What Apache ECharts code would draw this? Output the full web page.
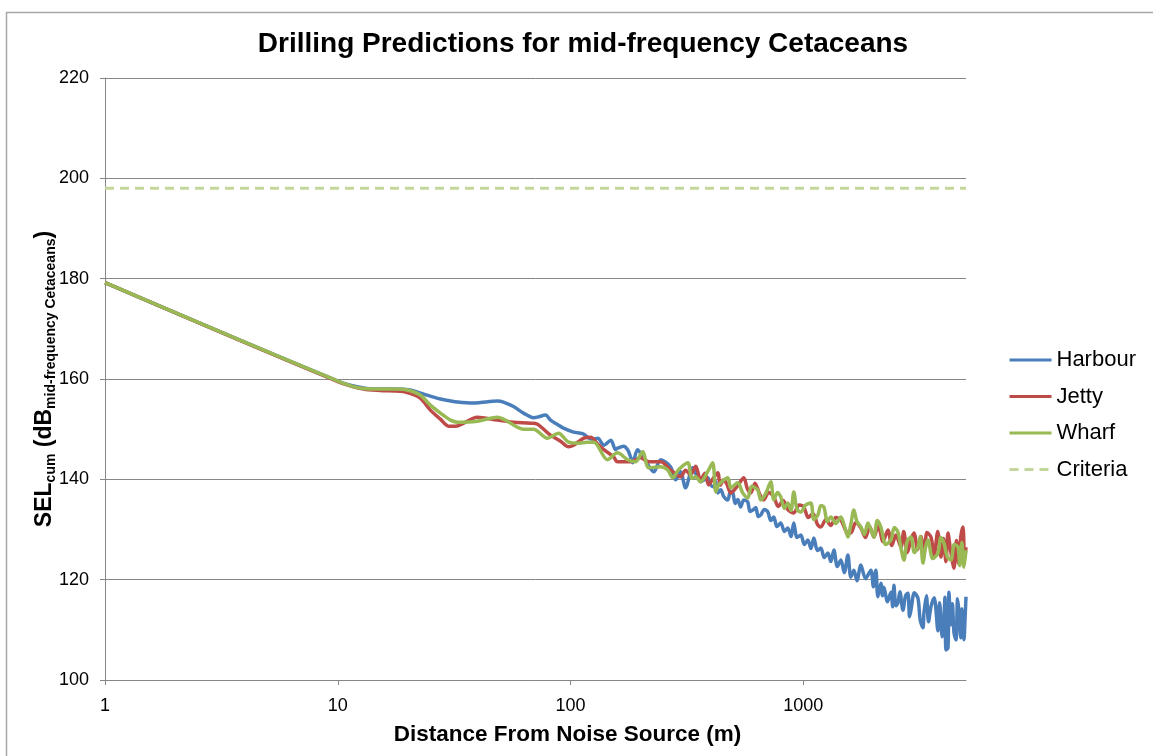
<!DOCTYPE html>
<html>
<head>
<meta charset="utf-8">
<script src="https://cdn.jsdelivr.net/npm/echarts@6/dist/echarts.min.js"></script>
<style>
html,body{margin:0;padding:0;background:#fff;}
#chart{width:1153px;height:756px;}
</style>
</head>
<body>
<div id="chart"></div>
<script>
// ---- data (distance in m, SEL in dB) ----
const xTicks = [1, 10, 100, 1000];

const harbourDist = [1, 10, 12.9, 15.2, 17.7, 20.5, 22.6, 25.0, 27.6, 29.9, 32.7, 38.3, 41.0, 48.5, 51.5, 56.9, 62.8, 69.3, 72.1, 78.1, 82.0, 88.8, 93.3, 103, 110, 114, 120, 126, 131, 139, 149, 156, 159, 169, 176, 181, 185, 194, 206, 228, 244, 269, 283, 297, 312, 335, 362, 388, 400, 412, 420, 429, 442, 455, 474, 486, 498, 510, 523, 538, 555, 577, 590, 607, 625, 640, 657, 680, 704, 725, 747, 770, 800, 830, 858, 885, 910, 940, 976, 1010, 1046, 1078, 1110, 1150, 1189, 1230, 1275, 1313, 1353, 1400, 1450, 1500, 1554, 1600, 1649, 1700, 1767, 1850, 1951, 2000, 2050, 2091, 2154, 2190, 2220, 2300, 2379, 2420, 2451, 2500, 2550, 2600, 2679, 2750, 2815, 2860, 2900, 3000, 3108, 3180, 3266, 3299, 3380, 3450, 3535, 3650, 3788, 3850, 3950, 4021, 4060, 4102, 4184, 4225, 4300, 4370, 4440, 4529, 4600, 4666, 4750, 4800, 4900, 4950, 5000];
const harbourSEL = [179.2, 159.6, 158.2, 158.0, 158.0, 157.8, 157.2, 156.6, 156.0, 155.7, 155.4, 155.2, 155.3, 155.6, 155.4, 154.5, 153.2, 152.3, 152.4, 152.8, 151.8, 150.8, 150.2, 149.4, 149.2, 149.0, 148.2, 148.0, 148.2, 146.8, 147.8, 145.9, 146.2, 146.6, 145.9, 144.5, 143.3, 145.9, 144.3, 141.5, 143.9, 142.5, 139.9, 141.5, 138.3, 142.3, 139.5, 140.3, 138.9, 138.5, 139.6, 137.3, 137.9, 136.6, 135.9, 137.6, 137.3, 135.2, 136.0, 134.5, 135.9, 135.5, 133.6, 133.9, 134.4, 132.6, 132.9, 134.0, 133.5, 131.8, 132.5, 130.6, 131.3, 129.6, 130.3, 128.6, 131.3, 128.4, 128.9, 127.0, 127.9, 126.2, 128.3, 125.8, 126.3, 124.4, 125.3, 123.6, 125.9, 122.6, 123.9, 121.4, 124.9, 120.5, 121.9, 119.8, 122.9, 120.2, 121.9, 118.6, 121.9, 116.6, 119.3, 116.8, 118.5, 115.6, 117.5, 114.6, 118.9, 114.8, 115.4, 117.6, 113.9, 116.8, 117.3, 112.6, 113.9, 117.4, 116.3, 111.9, 110.4, 113.4, 116.8, 111.6, 114.6, 116.4, 109.8, 115.4, 108.6, 112.6, 116.5, 106.0, 106.4, 117.5, 111.0, 115.2, 109.4, 108.0, 116.2, 113.6, 108.4, 114.2, 108.0, 112.0, 116.6];

const jettyDist = [1, 10, 12.9, 15.2, 17.7, 19.9, 22.6, 25.0, 27.6, 29.9, 32.0, 39.8, 48.5, 56.9, 67.3, 72.1, 82.0, 90.6, 98.0, 103, 114, 122, 131, 139, 153, 159, 181, 200, 217, 244, 269, 297, 312, 328, 345, 362, 378, 392, 410, 429, 440, 455, 470, 488, 520, 555, 575, 595, 620, 650, 676, 710, 747, 780, 820, 860, 910, 960, 1005, 1050, 1100, 1150, 1189, 1250, 1313, 1380, 1450, 1530, 1600, 1680, 1767, 1850, 1930, 2010, 2100, 2200, 2309, 2400, 2500, 2627, 2700, 2800, 2900, 2988, 3100, 3200, 3299, 3400, 3535, 3650, 3780, 3903, 4000, 4100, 4184, 4300, 4440, 4550, 4650, 4750, 4853, 4930, 5000];
const jettySEL = [179.2, 159.5, 158.0, 157.7, 157.6, 157.3, 156.2, 153.8, 152.0, 150.6, 150.6, 152.4, 151.8, 151.4, 151.2, 151.0, 148.8, 147.6, 146.5, 146.8, 148.2, 148.4, 147.0, 145.9, 144.5, 143.5, 143.5, 144.3, 143.5, 143.5, 141.9, 140.5, 141.8, 140.9, 142.6, 139.9, 141.2, 138.9, 140.2, 141.3, 138.8, 139.9, 139.0, 137.3, 138.6, 140.3, 138.1, 137.3, 139.2, 137.0, 135.9, 137.4, 136.5, 134.6, 135.8, 133.9, 133.3, 134.9, 134.5, 132.4, 133.2, 131.0, 130.5, 132.0, 130.8, 132.4, 131.9, 129.6, 129.3, 131.4, 130.3, 128.4, 130.6, 128.5, 130.8, 127.6, 129.9, 126.8, 128.9, 126.5, 129.6, 125.4, 128.0, 129.3, 126.0, 128.6, 125.3, 129.4, 128.5, 125.0, 129.6, 124.5, 128.2, 123.6, 129.3, 125.6, 122.3, 127.8, 123.2, 128.6, 130.5, 124.0, 126.5];

const wharfDist = [1, 10, 12.9, 15.2, 17.7, 19.9, 22.6, 25.0, 27.6, 30.5, 32.7, 39.8, 48.5, 62.8, 69.3, 79.6, 88.8, 98.0, 107, 118, 126, 144, 159, 176, 190, 204, 217, 244, 261, 275, 291, 319, 332, 345, 362, 388, 408, 421, 433, 474, 488, 523, 549, 577, 600, 637, 657, 690, 725, 747, 775, 800, 830, 858, 885, 910, 940, 976, 1020, 1077, 1110, 1155, 1190, 1225, 1270, 1313, 1380, 1450, 1500, 1554, 1600, 1649, 1700, 1767, 1830, 1894, 1950, 2010, 2080, 2154, 2260, 2379, 2460, 2550, 2620, 2706, 2790, 2900, 3000, 3108, 3180, 3266, 3350, 3431, 3600, 3788, 3900, 4021, 4150, 4309, 4450, 4619, 4700, 4800, 4900, 5000];
const wharfSEL = [179.2, 159.6, 158.1, 158.0, 158.0, 157.8, 156.8, 154.8, 153.2, 151.8, 151.4, 151.6, 152.4, 150.0, 150.0, 148.2, 149.2, 147.4, 147.2, 147.4, 147.4, 143.9, 145.3, 143.9, 143.5, 145.5, 142.3, 142.5, 141.9, 140.3, 141.9, 143.3, 140.2, 140.5, 139.5, 141.5, 143.3, 137.5, 138.9, 140.3, 138.3, 139.3, 137.3, 136.3, 138.6, 137.9, 135.9, 137.2, 139.5, 135.9, 137.4, 136.5, 134.2, 135.3, 133.8, 137.5, 134.0, 133.5, 134.8, 135.3, 132.0, 132.9, 134.8, 134.5, 131.6, 132.5, 131.2, 132.5, 130.8, 128.5, 131.0, 133.9, 131.6, 130.5, 129.0, 131.3, 130.0, 128.5, 131.8, 130.5, 127.0, 127.9, 130.4, 129.5, 126.6, 123.9, 127.6, 128.5, 125.4, 126.5, 128.6, 123.3, 126.4, 127.9, 124.2, 125.3, 128.4, 127.3, 124.6, 123.9, 127.0, 126.5, 122.8, 127.4, 122.5, 125.9];

const criteriaDist = [1, 5000];
const criteriaSEL = [198, 198];

const seriesNames = ['Harbour', 'Jetty', 'Wharf', 'Criteria'];
const colors = ['#4a7ebb', '#be4b48', '#98b954', '#c3d69b'];

function zip(xs, ys) { return xs.map((x, i) => [x, ys[i]]); }

const chart = echarts.init(document.getElementById('chart'), null, {renderer: 'canvas'});
const FONT = 'Liberation Sans, Arial, sans-serif';

const option = {
  animation: false,
  backgroundColor: '#ffffff',
  textStyle: {fontFamily: FONT},
  title: {
    text: 'Drilling Predictions for mid-frequency Cetaceans',
    left: 578, top: 25, textAlign: 'center',
    textStyle: {fontFamily: FONT, fontSize: 28, fontWeight: 'bold', color: '#000'}
  },
  grid: {left: 105, right: 187, top: 78, bottom: 76, containLabel: false},
  legend: {
    orient: 'vertical', left: 1003, top: 344, padding: 5,
    itemWidth: 42, itemHeight: 14, itemGap: 14.5,
    data: seriesNames,
    itemStyle: {color: 'rgba(0,0,0,0)', borderColor: 'rgba(0,0,0,0)', borderWidth: 0, opacity: 0},
    lineStyle: {width: 3},
    textStyle: {fontFamily: FONT, fontSize: 22, color: '#000'}
  },
  xAxis: {
    type: 'log', logBase: 10, min: 1, max: 5000,
    name: 'Distance From Noise Source (m)',
    nameLocation: 'middle', nameGap: 43,
    nameTextStyle: {fontFamily: FONT, fontSize: 22.5, fontWeight: 'bold', color: '#000', padding: [0,0,0,64]},
    axisLine: {show: true, lineStyle: {color: '#868686', width: 1}},
    axisTick: {show: true, length: 5, lineStyle: {color: '#868686'}},
    axisLabel: {
      fontFamily: FONT, fontSize: 18, color: '#000', margin: 17, showMaxLabel: false,
      formatter: function (v) { return xTicks.indexOf(Math.round(v)) >= 0 ? String(Math.round(v)) : ''; }
    },
    splitLine: {show: false},
    minorTick: {show: false}
  },
  yAxis: {
    type: 'value', min: 100, max: 220, interval: 20,
    name: '{m|SEL}{s|cum}{m| (dB}{s|mid-frequency Cetaceans}{m|)}',
    nameLocation: 'middle', nameGap: 47, nameMoveOverlap: false,
    nameTextStyle: {
      rich: {
        m: {fontFamily: FONT, fontSize: 23, fontWeight: 'bold', color: '#000'},
        s: {fontFamily: FONT, fontSize: 14, fontWeight: 'bold', color: '#000', padding: [12, 0, 0, 0]}
      }
    },
    axisLine: {show: true, lineStyle: {color: '#868686', width: 1}},
    axisTick: {show: true, length: 5, lineStyle: {color: '#868686'}},
    axisLabel: {fontFamily: FONT, fontSize: 18, color: '#000', margin: 16},
    splitLine: {show: true, lineStyle: {color: '#868686', width: 1}}
  },
  graphic: [{
    type: 'rect', silent: true, z: -10,
    shape: {x: 6.5, y: 12.5, width: 1300, height: 900},
    style: {fill: 'none', stroke: '#a6a6a6', lineWidth: 1.5}
  }],
  series: [
    {name: 'Harbour', type: 'line', data: zip(harbourDist, harbourSEL), symbol: 'none', smooth: 0.3,
     lineStyle: {color: colors[0], width: 3.5}, itemStyle: {color: colors[0]}},
    {name: 'Jetty', type: 'line', data: zip(jettyDist, jettySEL), symbol: 'none', smooth: 0.3,
     lineStyle: {color: colors[1], width: 3.5}, itemStyle: {color: colors[1]}},
    {name: 'Wharf', type: 'line', data: zip(wharfDist, wharfSEL), symbol: 'none', smooth: 0.3,
     lineStyle: {color: colors[2], width: 3.5}, itemStyle: {color: colors[2]}},
    {name: 'Criteria', type: 'line', data: zip(criteriaDist, criteriaSEL), symbol: 'none',
     lineStyle: {color: colors[3], width: 3, type: [9, 6]}, itemStyle: {color: colors[3]}}
  ]
};
chart.setOption(option);
</script>
</body>
</html>
